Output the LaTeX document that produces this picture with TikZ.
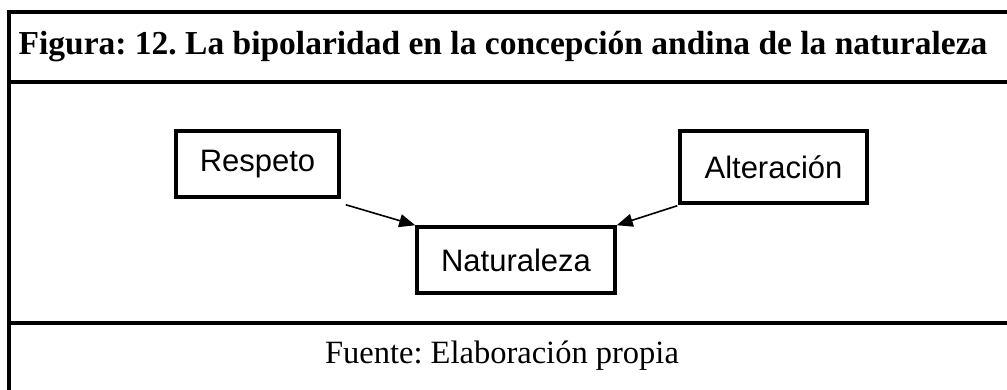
\documentclass[tikz,border=0pt]{standalone}
\usepackage{fontspec}
\setmainfont{Liberation Serif}
\newfontfamily\arialf{Liberation Sans}
\usetikzlibrary{arrows.meta,calc}
\frenchspacing
\tikzset{
  frameline/.style={line width=4pt},
  boxnode/.style={draw, line width=3.5pt, inner sep=0pt, font=\arialf\fontsize{31}{35}\selectfont},
  conn/.style={line width=1.6pt, -{Triangle[length=16pt,width=13pt]}}
}
\begin{document}
\begin{tikzpicture}[x=1pt,y=-1pt]
\useasboundingbox (0,0) rectangle (1007,390);
% frame
\draw[frameline] (9,390) -- (9,12) -- (1007,12);
\draw[frameline] (9,82) -- (1007,82);
\draw[frameline] (9,323) -- (1007,323);
% texts
\node[font=\bfseries\fontsize{33.5}{38}\selectfont] (title) at (503,47) {Figura: 12. La bipolaridad en la concepción andina de la naturaleza};
\node[font=\fontsize{32.5}{37}\selectfont] (source) at (502,356) {Fuente: Elaboración propia};
% boxes
\node[boxnode, minimum width=163pt, minimum height=66pt] (r) at (257.5,164) {Respeto};
\node[boxnode, minimum width=187pt, minimum height=72pt] (a) at (773.5,167) {Alteración};
\node[boxnode, minimum width=198pt, minimum height=66pt] (n) at (516,260) {Naturaleza};
% connectors
\coordinate (rs) at ($(r.south east)+(5,6)$);
\coordinate (as) at ($(a.south west)+(-1,1)$);
\draw[conn] (rs) -- (n.north west);
\draw[conn] (as) -- (n.north east);
\end{tikzpicture}
\end{document}
